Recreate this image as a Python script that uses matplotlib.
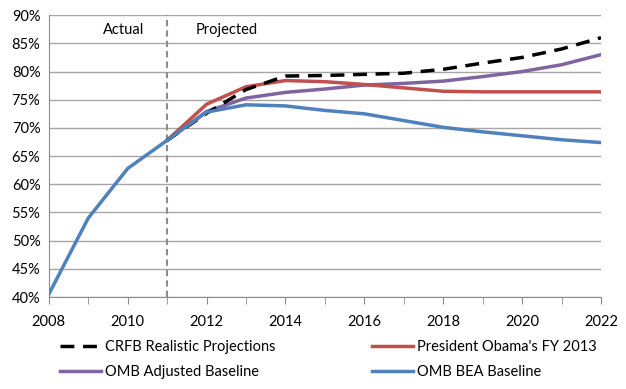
import matplotlib.pyplot as plt
import numpy as np

years_actual = [2008, 2009, 2010, 2011]
years_proj = list(range(2011, 2023))

bea_actual = [40.5, 54.0, 62.8, 67.8]
bea_proj = [67.8, 72.8, 74.1, 73.9, 73.1, 72.5, 71.3, 70.1, 69.3, 68.6, 67.9, 67.4]
obama = [67.8, 74.2, 77.3, 78.4, 78.2, 77.7, 77.1, 76.5, 76.4, 76.4, 76.4, 76.4]
omb_adj = [67.8, 72.9, 75.3, 76.3, 76.9, 77.6, 77.9, 78.3, 79.1, 80.0, 81.2, 83.0]
crfb = [67.8, 72.6, 76.8, 79.2, 79.3, 79.5, 79.7, 80.4, 81.5, 82.5, 84.0, 86.0]

plt.rcParams['font.family'] = ['Lato', 'DejaVu Sans']

fig = plt.figure(figsize=(6.26, 3.89), dpi=100)
ax = fig.add_axes([0.078, 0.2365, 0.882, 0.7245])

blue = '#4f81bd'
red = '#c0504d'
purple = '#8064a2'

ax.plot(years_proj, crfb, color='black', lw=2.5, dashes=(4, 2.5), label='CRFB Realistic Projections', zorder=5)
ax.plot(years_proj, omb_adj, color=purple, lw=2.5, label='OMB Adjusted Baseline', zorder=3)
ax.plot(years_proj, obama, color=red, lw=2.5, label="President Obama's FY 2013", zorder=4)
ax.plot(years_actual + years_proj[1:], bea_actual + bea_proj[1:], color=blue, lw=2.5,
        label='OMB BEA Baseline', zorder=6)

ax.axvline(2011, color='#8c8c8c', lw=1.5, ls=(0, (3, 2)), zorder=2)
ax.text(2009.9, 87.3, 'Actual', fontsize=10.5, ha='center', va='center')
ax.text(2012.5, 87.3, 'Projected', fontsize=10.5, ha='center', va='center')

ax.set_xlim(2008, 2022)
ax.set_ylim(40, 90)
ax.set_xticks(range(2008, 2023, 2))
ax.set_xticks(range(2008, 2023), minor=True)
ax.set_yticks(range(40, 91, 5))
ax.set_yticklabels(['%d%%' % v for v in range(40, 91, 5)])
ax.grid(axis='y', color='#a6a6a6', lw=1)
ax.set_axisbelow(True)
for s in ['top', 'right']:
    ax.spines[s].set_visible(False)
for s in ['left', 'bottom']:
    ax.spines[s].set_color('#8c8c8c')
ax.tick_params(axis='x', which='both', direction='out', length=5, color='#8c8c8c', labelsize=10.5, pad=8)
ax.tick_params(axis='y', length=0, labelsize=10.5, pad=6)

fig.legend(loc='upper left', bbox_to_anchor=(0.075, 0.16), ncol=2, frameon=False,
           fontsize=10.5, handlelength=2.8, columnspacing=6.6, labelspacing=0.75,
           handletextpad=0.3)

fig.savefig('out.png', dpi=100)
